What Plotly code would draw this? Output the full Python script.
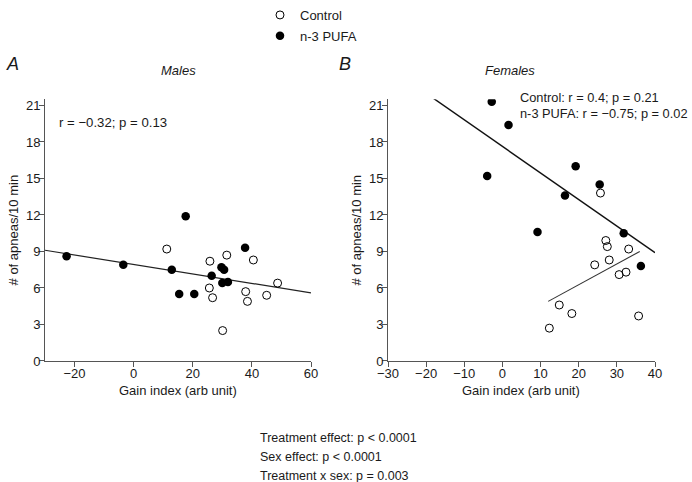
import plotly.graph_objects as go

W, H = 692, 482

# ---- Data ----
# Panel A: Males
males_ctrl_x = [11.2, 25.8, 31.5, 40.5, 25.6, 26.7, 37.9, 38.5, 45.0, 48.7, 30.1]
males_ctrl_y = [9.2, 8.2, 8.7, 8.3, 6.0, 5.2, 5.7, 4.9, 5.4, 6.4, 2.5]
males_pufa_x = [-22.7, -3.5, 17.6, 12.9, 15.4, 20.5, 26.4, 29.7, 30.6, 30.0, 31.9, 37.7]
males_pufa_y = [8.6, 7.9, 11.9, 7.5, 5.5, 5.5, 7.0, 7.7, 7.5, 6.4, 6.5, 9.3]
males_fit_x = [-30, 60]
males_fit_y = [9.1, 5.6]

# Panel B: Females
fem_ctrl_x = [25.7, 27.1, 27.5, 33.1, 28.0, 24.2, 30.6, 32.4, 14.9, 18.2, 12.3, 35.7]
fem_ctrl_y = [13.8, 9.9, 9.4, 9.2, 8.3, 7.9, 7.1, 7.3, 4.6, 3.9, 2.7, 3.7]
fem_pufa_x = [-2.8, 1.6, -4.0, 19.2, 25.5, 16.4, 9.2, 31.8, 36.3]
fem_pufa_y = [21.3, 19.4, 15.2, 16.0, 14.5, 13.6, 10.6, 10.5, 7.8]
fem_ctrl_fit_x = [12, 36]
fem_ctrl_fit_y = [4.9, 9.0]
fem_pufa_fit_x = [-20, 40]
fem_pufa_fit_y = [22.0, 8.9]

# Text
legend_names = ["Control", "n-3 PUFA"]
panel_labels = ["A", "B"]
panel_titles = ["Males", "Females"]
males_stats = "r = \u22120.32; p = 0.13"
fem_stats = ["Control: r = 0.4; p = 0.21", "n-3 PUFA: r = \u22120.75; p = 0.02"]
x_title = "Gain index (arb unit)"
y_title = "# of apneas/10 min"
bottom_stats = ["Treatment effect: p < 0.0001", "Sex effect: p < 0.0001", "Treatment x sex: p = 0.003"]

FONT = "Liberation Sans, Arial, Helvetica, sans-serif"
TXT = "#1a1a1a"
AX = "#555555"

def px(x):
    return x / W

def py(y):
    return 1 - y / H

fig = go.Figure()

open_marker = dict(symbol="circle-open", size=8, color="black", line=dict(width=1, color="black"))
filled_marker = dict(symbol="circle", size=8.5, color="black")

# Panel A traces
fig.add_trace(go.Scatter(x=males_fit_x, y=males_fit_y, mode="lines",
                         line=dict(color="#222", width=1.2), showlegend=False,
                         xaxis="x", yaxis="y"))
fig.add_trace(go.Scatter(x=males_ctrl_x, y=males_ctrl_y, mode="markers",
                         marker=open_marker, name=legend_names[0], showlegend=True,
                         legendgroup="ctrl", xaxis="x", yaxis="y"))
fig.add_trace(go.Scatter(x=males_pufa_x, y=males_pufa_y, mode="markers",
                         marker=filled_marker, name=legend_names[1], showlegend=True,
                         legendgroup="pufa", xaxis="x", yaxis="y"))

# Panel B traces
fig.add_trace(go.Scatter(x=fem_pufa_fit_x, y=fem_pufa_fit_y, mode="lines",
                         line=dict(color="#111", width=1.4), showlegend=False,
                         xaxis="x2", yaxis="y2"))
fig.add_trace(go.Scatter(x=fem_ctrl_fit_x, y=fem_ctrl_fit_y, mode="lines",
                         line=dict(color="#333", width=1.1), showlegend=False,
                         xaxis="x2", yaxis="y2"))
fig.add_trace(go.Scatter(x=fem_ctrl_x, y=fem_ctrl_y, mode="markers",
                         marker=open_marker, showlegend=False, legendgroup="ctrl",
                         xaxis="x2", yaxis="y2"))
fig.add_trace(go.Scatter(x=fem_pufa_x, y=fem_pufa_y, mode="markers",
                         marker=filled_marker, showlegend=False, legendgroup="pufa",
                         xaxis="x2", yaxis="y2"))

ydom = [py(361), py(361 - 21.5 * 12.17)]

axis_common = dict(showline=True, linecolor=AX, linewidth=1, ticks="outside",
                   ticklen=5, tickcolor=AX, tickwidth=1, showgrid=False,
                   zeroline=False, tickfont=dict(family=FONT, size=13, color=TXT),
                   automargin=False)

fig.update_layout(
    width=W, height=H,
    margin=dict(l=0, r=0, t=0, b=0),
    paper_bgcolor="white", plot_bgcolor="white",
    font=dict(family=FONT, size=13, color=TXT),
    xaxis=dict(domain=[px(45), px(311)], range=[-30, 60], dtick=20, tick0=0,
               anchor="y", ticklabelstandoff=-5, **axis_common),
    yaxis=dict(domain=ydom, range=[0, 21.5], dtick=3, tick0=0, anchor="x",
               ticklabelstandoff=-4,
               title=dict(text=y_title, standoff=4,
                          font=dict(family=FONT, size=13, color=TXT)),
               **axis_common),
    xaxis2=dict(domain=[px(388), px(655)], range=[-30, 40], dtick=10, tick0=0,
                anchor="y2", ticklabelstandoff=-5, **axis_common),
    yaxis2=dict(domain=ydom, range=[0, 21.5], dtick=3, tick0=0, anchor="x2",
                ticklabelstandoff=-4,
                title=dict(text=y_title, standoff=4,
                           font=dict(family=FONT, size=13, color=TXT)),
                **axis_common),
    legend=dict(x=px(260), y=1, xanchor="left", yanchor="top",
                font=dict(family=FONT, size=13, color=TXT),
                traceorder="grouped", tracegroupgap=1,
                bgcolor="rgba(0,0,0,0)", itemwidth=30),
)

ann = []
# Panel letters
for lbl, xx in zip(panel_labels, [4, 337]):
    ann.append(dict(text=lbl, x=px(xx), y=py(64), xref="paper", yref="paper",
                    xanchor="left", yanchor="middle", showarrow=False,
                    font=dict(family=FONT, size=18, color=TXT, style="italic")))
# Panel titles
for t, xx in zip(panel_titles, [178, 510]):
    ann.append(dict(text=t, x=px(xx), y=py(70), xref="paper", yref="paper",
                    xanchor="center", yanchor="middle", showarrow=False,
                    font=dict(family=FONT, size=13, color=TXT, style="italic")))
# X-axis titles
for xx in [178, 521]:
    ann.append(dict(text=x_title, x=px(xx), y=py(390), xref="paper", yref="paper",
                    xanchor="center", yanchor="middle", showarrow=False,
                    font=dict(family=FONT, size=13, color=TXT)))
# Stats text
ann.append(dict(text=males_stats, x=px(57), y=py(122), xref="paper", yref="paper",
                xanchor="left", yanchor="middle", showarrow=False,
                font=dict(family=FONT, size=13.2, color=TXT)))
for i, t in enumerate(fem_stats):
    ann.append(dict(text=t, x=px(518), y=py(98 + 15 * i), xref="paper", yref="paper",
                    xanchor="left", yanchor="middle", showarrow=False,
                    font=dict(family=FONT, size=12.8, color=TXT)))
for i, t in enumerate(bottom_stats):
    ann.append(dict(text=t, x=px(258), y=py(438 + 19 * i), xref="paper", yref="paper",
                    xanchor="left", yanchor="middle", showarrow=False,
                    font=dict(family=FONT, size=12.5, color=TXT)))

fig.update_layout(annotations=ann)

fig.write_html("out.html", config={"displayModeBar": False},
               post_script="document.body.style.margin='0';document.body.style.padding='0';")
